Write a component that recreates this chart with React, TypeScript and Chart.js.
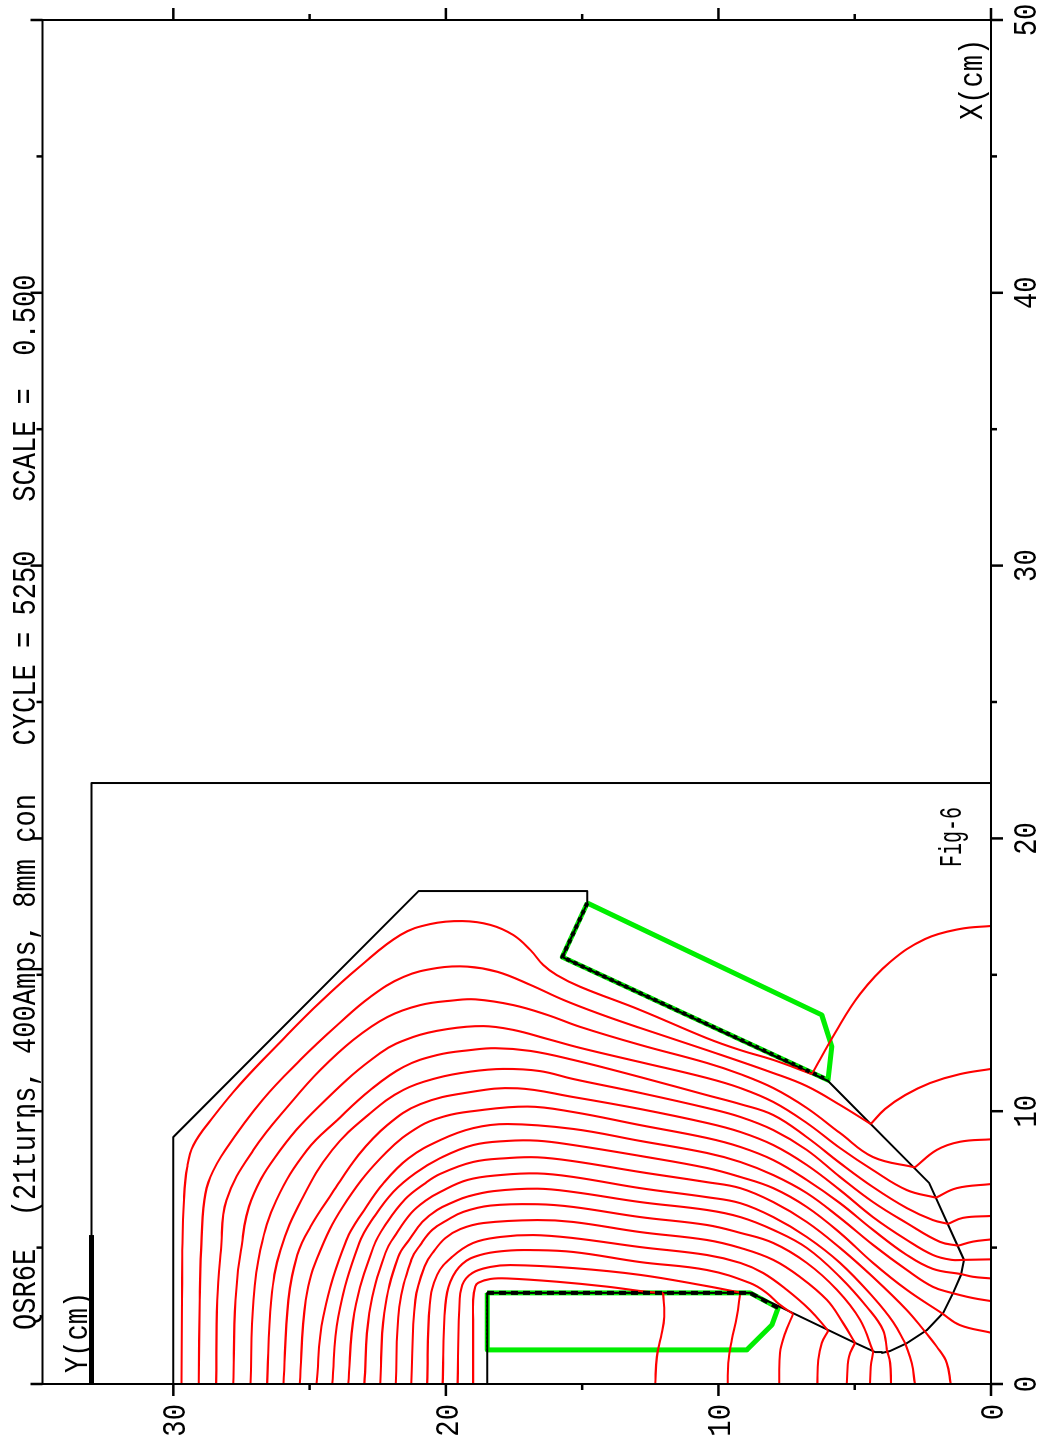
import React, { useEffect, useRef } from "react";
import { Chart, registerables } from "chart.js";

Chart.register(...registerables);

type P = [number, number]; // [X cm, Y cm]

const titleText = "QSR6E  (21turns, 400Amps, 8mm con   CYCLE = 5250   SCALE =  0.500";
const xLabelText = "X(cm)";
const yLabelText = "Y(cm)";
const figText = "Fig-6";

const outerBox: P[] = [[0, 33], [22.03, 33], [22.03, 0]];
const thickBar: P[] = [[0, 33], [5.46, 33]];
const yoke: P[] = [[0, 30], [9.05, 30], [18.07, 21], [18.07, 14.81], [17.63, 14.81], [15.65, 15.73], [11.11, 5.98], [7.37, 2.27], [4.55, 0.99], [4.0, 1.1], [3.34, 1.39], [2.6, 1.76], [1.98, 2.35], [1.5, 3.08], [1.21, 3.7], [1.14, 4.0], [1.17, 4.25], [1.54, 5.06], [2.86, 7.81], [3.34, 8.84], [3.34, 18.48], [0, 18.48]];
const coilUpper: P[] = [[17.63, 14.81], [15.65, 15.73], [11.14, 5.98], [12.36, 5.84], [13.53, 6.21], [17.63, 14.81]];
const coilLower: P[] = [[3.34, 18.48], [1.25, 18.48], [1.25, 8.96], [2.16, 8.04], [2.79, 7.81], [3.34, 8.84], [3.34, 18.48]];
const coilUpperEdge: P[] = [[17.63, 14.81], [15.65, 15.73], [11.14, 5.98]];
const coilLowerEdge: P[] = [[2.79, 7.81], [3.34, 8.84], [3.34, 18.48]];
const coilLowerSide: P[] = [[3.34, 18.48], [1.25, 18.48]];

const line01a: P[] = [[0, 29.7], [3.08, 29.68], [4.91, 29.67], [6.74, 29.61], [7.95, 29.49], [8.76, 29.26], [9.71, 28.6], [11.0, 27.54], [12.54, 26.07], [14.0, 24.61], [15.32, 23.14], [16.46, 21.67], [16.86, 20.57], [16.97, 19.4], [16.83, 18.37], [16.46, 17.53], [15.91, 16.9], [15.36, 16.43], [14.99, 15.93], [14.56, 15.07], [13.71, 12.87], [12.68, 10.43], [12.24, 9.2], [11.88, 7.99], [11.36, 6.57]];
const line01b: P[] = [[11.36, 6.57], [12.87, 5.72], [14.3, 4.8], [15.47, 3.7], [16.31, 2.42], [16.68, 1.14], [16.79, 0]];
const line02a: P[] = [[0, 29.07], [3.08, 29.03], [4.91, 28.98], [6.74, 28.86], [7.59, 28.64], [8.58, 28.09], [10.41, 26.73], [11.88, 25.34], [13.16, 23.98], [14.19, 22.77], [14.92, 21.56], [15.25, 20.32], [15.3, 19.21], [15.11, 18.11], [14.63, 16.9], [14.08, 15.69], [13.56, 14.34], [13.05, 12.87], [12.24, 10.43], [11.4, 7.99], [10.92, 6.76], [10.23, 5.54], [9.53, 4.41]];
const line02b: P[] = [[9.53, 4.41], [10.08, 3.89], [10.59, 3.15], [11.03, 2.24], [11.36, 1.14], [11.55, 0]];
const line03a: P[] = [[0, 28.43], [3.08, 28.39], [4.91, 28.25], [6.74, 28.05], [8.58, 27.06], [10.41, 25.6], [11.51, 24.61], [12.61, 23.4], [13.45, 22.15], [13.89, 20.94], [14.06, 19.73], [14.1, 18.92], [13.89, 17.53], [13.53, 16.28], [13.09, 15.07], [12.43, 12.87], [11.77, 10.43], [11.36, 9.2], [10.85, 7.99], [10.12, 6.76], [9.2, 5.54], [8.32, 4.33], [7.94, 2.79]];
const line03b: P[] = [[7.94, 2.79], [8.58, 1.99], [8.88, 1.14], [8.97, 0]];
const line04a: P[] = [[0, 27.8], [3.08, 27.72], [4.91, 27.52], [6.74, 27.14], [8.58, 26.07], [10.41, 24.42], [12.13, 22.41], [12.72, 21.2], [13.01, 19.95], [13.12, 18.63], [12.98, 17.53], [12.65, 16.28], [12.32, 15.07], [11.8, 12.87], [11.22, 10.43], [10.85, 9.2], [10.34, 7.99], [9.57, 6.76], [8.65, 5.54], [7.84, 4.33], [7.11, 3.09], [6.83, 2.02]];
const line04b: P[] = [[6.83, 2.02], [7.18, 1.26], [7.33, 0]];
const line05a: P[] = [[0, 27.17], [3.08, 27.06], [4.91, 26.81], [6.74, 26.22], [8.58, 25.09], [9.68, 23.98], [10.78, 22.77], [11.62, 21.56], [12.06, 20.32], [12.24, 19.11], [12.31, 18.19], [12.21, 16.9], [11.88, 15.33], [11.25, 12.87], [10.59, 10.43], [10.26, 9.2], [9.86, 7.99], [9.05, 6.76], [8.1, 5.54], [7.22, 4.33], [6.45, 3.09], [6.01, 2.13], [5.87, 1.57]];
const line05b: P[] = [[5.87, 1.57], [6.09, 1.03], [6.16, 0]];
const line06a: P[] = [[0, 26.56], [3.08, 26.41], [4.91, 26.07], [6.74, 25.3], [8.58, 24.17], [9.93, 22.77], [10.78, 21.56], [11.22, 20.32], [11.45, 19.11], [11.55, 17.9], [11.47, 16.54], [11.18, 15.33], [10.67, 12.87], [10.12, 10.43], [9.79, 9.2], [9.31, 7.99], [8.58, 6.76], [7.59, 5.54], [6.67, 4.33], [5.9, 3.09], [5.21, 1.87], [5.07, 1.2]];
const line06b: P[] = [[5.07, 1.2], [5.22, 0.66], [5.3, 0]];
const line07a: P[] = [[0, 25.96], [3.08, 25.78], [4.73, 25.45], [5.76, 24.97], [7.0, 24.17], [8.39, 23.21], [9.49, 22.15], [10.26, 20.94], [10.7, 19.11], [10.84, 17.38], [10.52, 15.33], [10.08, 12.87], [9.57, 10.43], [9.24, 9.2], [8.76, 7.99], [8.03, 6.76], [7.11, 5.54], [6.12, 4.33], [5.28, 3.09], [4.73, 2.13], [4.55, 1.44], [4.55, 0.99]];
const line07b: P[] = [[4.55, 0.99], [4.57, 0]];
const line08a: P[] = [[0, 25.36], [3.08, 25.14], [4.91, 24.6], [6.74, 23.62], [8.5, 22.18], [9.46, 20.94], [9.82, 20.02], [9.99, 19.11], [10.17, 17.01], [9.97, 15.33], [9.49, 12.87], [9.02, 10.43], [8.69, 9.2], [8.21, 7.99], [7.48, 6.76], [6.63, 5.54], [5.65, 4.33], [4.73, 3.09], [4.22, 2.13], [4.03, 1.1]];
const line08b: P[] = [[4.03, 1.1], [3.93, 0.66], [3.87, 0]];
const line09a: P[] = [[0, 24.75], [2.46, 24.5], [5.28, 23.65], [6.38, 22.99], [7.35, 22.3], [8.27, 21.38], [8.94, 20.21], [9.38, 19.0], [9.53, 17.75], [9.35, 15.33], [8.91, 12.87], [8.47, 10.43], [8.14, 9.2], [7.66, 7.99], [7.0, 6.76], [6.09, 5.54], [5.1, 4.33], [4.18, 3.09], [3.56, 2.13], [3.32, 1.38]];
const line09b: P[] = [[3.32, 1.38], [3.15, 0.66], [3.04, 0]];
const line10a: P[] = [[0, 24.17], [2.46, 23.95], [5.17, 23.18], [6.19, 22.59], [7.04, 21.93], [7.73, 21.12], [8.28, 20.21], [8.76, 19.0], [8.91, 17.75], [8.92, 16.65], [8.76, 15.33], [8.36, 12.87], [7.92, 10.43], [7.59, 9.2], [7.18, 7.99], [6.49, 6.76], [5.54, 5.54], [4.44, 4.33], [3.45, 3.09], [2.6, 1.81]];
const line10b: P[] = [[2.6, 1.81], [2.16, 1.14], [1.88, 0]];
const line11a: P[] = [[0, 23.58], [2.6, 23.36], [5.02, 22.66], [5.94, 22.15], [6.78, 21.49], [7.33, 20.8], [7.7, 20.21], [8.14, 19.0], [8.28, 17.75], [8.31, 16.65], [8.17, 15.33], [7.77, 12.87], [7.4, 10.43], [7.18, 9.2], [6.67, 7.99], [5.94, 6.76], [4.99, 5.54], [3.92, 4.33], [2.71, 3.09], [1.92, 2.42]];
const line11b: P[] = [[1.92, 2.42], [1.37, 1.99], [0.77, 1.62], [0, 1.48]];
const line12a: P[] = [[0, 22.99], [2.6, 22.81], [4.8, 22.22], [5.57, 21.78], [6.27, 21.27], [6.71, 20.76], [7.04, 20.21], [7.48, 19.21], [7.66, 18.0], [7.72, 16.65], [7.59, 15.33], [7.18, 12.87], [6.85, 10.43], [6.63, 9.2], [6.12, 7.99], [5.39, 6.76], [4.44, 5.54], [3.19, 4.33], [2.27, 3.59], [1.5, 3.15]];
const line12b: P[] = [[1.5, 3.15], [0.77, 2.91], [0, 2.79]];
const line13a: P[] = [[0, 22.41], [2.6, 22.26], [4.66, 21.75], [5.35, 21.3], [5.94, 20.87], [6.38, 20.32], [6.67, 19.73], [6.87, 19.21], [7.07, 18.26], [7.16, 16.65], [7.04, 15.33], [6.67, 12.87], [6.38, 10.43], [6.12, 9.2], [5.65, 7.99], [4.99, 6.76], [3.92, 5.54], [2.82, 4.55], [1.98, 3.96], [1.25, 3.82]];
const line13b: P[] = [[1.25, 3.82], [0.77, 3.7], [0, 3.67]];
const line14a: P[] = [[0, 21.84], [2.82, 21.71], [4.55, 21.27], [5.1, 20.94], [5.65, 20.5], [6.01, 19.95], [6.31, 19.36], [6.54, 18.37], [6.59, 16.65], [6.49, 15.33], [6.12, 12.87], [5.83, 10.43], [5.54, 9.2], [5.17, 7.99], [4.44, 6.76], [3.45, 5.65], [2.35, 4.8], [1.18, 4.32]];
const line14b: P[] = [[1.18, 4.32], [0.63, 4.41], [0, 4.44]];
const line15a: P[] = [[0, 21.27], [3.08, 21.12], [4.36, 20.76], [4.84, 20.46], [5.35, 20.02], [5.68, 19.47], [5.9, 18.63], [6.01, 16.65], [5.94, 15.33], [5.57, 12.87], [5.28, 10.43], [4.99, 9.2], [4.55, 7.99], [3.92, 7.0], [3.08, 6.02], [2.24, 5.43], [1.51, 4.99]];
const line15b: P[] = [[1.51, 4.99], [1.0, 5.21], [0, 5.29]];
const line16a: P[] = [[0, 20.69], [2.9, 20.59], [4.0, 20.32], [4.66, 19.77], [5.17, 19.0], [5.39, 18.0], [5.46, 16.8], [5.35, 15.33], [5.02, 12.87], [4.73, 10.43], [4.44, 9.2], [4.07, 8.36], [3.45, 7.49], [2.71, 6.64], [1.95, 5.97]];
const line16b: P[] = [[1.95, 5.97], [1.5, 6.21], [0.88, 6.34], [0, 6.37]];
const line17a: P[] = [[0, 20.12], [2.9, 20.02], [3.74, 19.84], [4.4, 19.4], [4.73, 18.74], [4.88, 17.82], [4.91, 16.9], [4.84, 15.33], [4.47, 12.87], [4.18, 10.43], [3.7, 8.84], [3.34, 8.23], [2.9, 7.74], [2.57, 7.26]];
const line17b: P[] = [[2.57, 7.26], [1.87, 7.55], [1.14, 7.74], [0, 7.77]];
const line18a: P[] = [[0, 19.57], [2.71, 19.51], [3.63, 19.4], [4.07, 19.03], [4.29, 18.37], [4.36, 17.64], [4.25, 15.33], [4.0, 12.87], [3.59, 10.43], [3.35, 9.2]];
const line18b: P[] = [[3.35, 9.2], [2.46, 9.33], [1.61, 9.51], [0.77, 9.64], [0, 9.66]];
const line19a: P[] = [[0, 19.0], [2.35, 19.0], [3.08, 19.0], [3.57, 18.92], [3.71, 18.81], [3.85, 18.37], [3.87, 17.76], [3.75, 15.93], [3.57, 14.09], [3.38, 12.63], [3.34, 12.03]];
const line19b: P[] = [[3.34, 12.03], [2.46, 11.99], [1.72, 12.11], [0.99, 12.26], [0, 12.32]];

const fieldLines: P[][] = [
  line01a, line01b, line02a, line02b, line03a, line03b, line04a, line04b, line05a, line05b,
  line06a, line06b, line07a, line07b, line08a, line08b, line09a, line09b, line10a, line10b,
  line11a, line11b, line12a, line12b, line13a, line13b, line14a, line14b, line15a, line15b,
  line16a, line16b, line17a, line17b, line18a, line18b, line19a, line19b,
];

const FONT_TEXT = '"Liberation Mono", monospace';

function ds(points: P[], color: string, width: number, order: number, tension = 0, dash: number[] = []) {
  return {
    data: points.map(([x, y]) => ({ x, y })),
    showLine: true,
    borderColor: color,
    borderWidth: width,
    borderDash: dash,
    borderJoinStyle: "round" as const,
    pointRadius: 0,
    tension,
    fill: false,
    clip: false as const,
    order,
  };
}

const axesPlugin = {
  id: "frameAndText",
  afterDraw(chart: any) {
    const { ctx, chartArea: a, scales } = chart;
    ctx.save();
    ctx.strokeStyle = "#000";
    ctx.lineWidth = 2;
    ctx.strokeRect(a.left, a.top, a.right - a.left, a.bottom - a.top);
    const mark = (x1: number, y1: number, x2: number, y2: number, w: number) => {
      ctx.lineWidth = w;
      ctx.beginPath();
      ctx.moveTo(x1, y1);
      ctx.lineTo(x2, y2);
      ctx.stroke();
    };
    const text = (s: string, x: number, y: number, size: number, sx: number, align: CanvasTextAlign = "left") => {
      ctx.save();
      ctx.translate(x, y);
      ctx.scale(sx, 1);
      ctx.font = `${size}px ${FONT_TEXT}`;
      ctx.fillStyle = "#000";
      ctx.textAlign = align;
      ctx.textBaseline = "alphabetic";
      ctx.fillText(s, 0, 0);
      ctx.restore();
    };
    for (const t of scales.x.ticks) {
      const p = scales.x.getPixelForValue(t.value);
      const len = t.value % 10 === 0 ? 12 : 6;
      mark(p, a.bottom, p, a.bottom + len, 2.5);
      mark(p, a.top, p, a.top - len, 2.5);
      if (t.label) text(String(t.label), p, a.bottom + 45, 34, 0.8, "center");
    }
    for (const t of scales.y.ticks) {
      const p = scales.y.getPixelForValue(t.value);
      const len = t.value % 10 === 0 ? 12 : 6;
      mark(a.left, p, a.left - len, p, 2.5);
      mark(a.right, p, a.right + len, p, 2.5);
      if (t.label) text(String(t.label), a.left - 20, p + 12, 34, 0.8, "right");
    }
    text(titleText, 115, 35, 33, 0.82);
    text(xLabelText, 1325, 982, 33, 0.82);
    text(yLabelText, 72, 87, 33, 0.82);
    text(figText, 578, 961, 31, 0.645);
    ctx.restore();
  },
};

export default function App() {
  const ref = useRef<HTMLCanvasElement>(null);
  useEffect(() => {
    const datasets: any[] = [];
    datasets.push(ds(coilUpperEdge, "#000", 4, 0, 0, [4, 4]));
    datasets.push(ds(coilLowerEdge, "#000", 4, 0, 0, [7, 5]));
    datasets.push(ds(coilLowerSide, "#000", 1.5, 0, 0, [2, 2]));
    datasets.push(ds(thickBar, "#000", 5, 1));
    fieldLines.forEach((l) => datasets.push(ds(l, "#ff0000", 2.1, 2, 0.4)));
    datasets.push(ds(yoke, "#000", 2, 3));
    datasets.push(ds(outerBox, "#000", 2, 3));
    datasets.push(ds(coilUpper, "#00ee00", 5, 4));
    datasets.push(ds(coilLower, "#00ee00", 5, 4));

    const labelEveryTen = (v: any) => (Number(v) % 10 === 0 ? String(v) : "");
    const chart = new Chart(ref.current as HTMLCanvasElement, {
      type: "scatter",
      data: { datasets },
      options: {
        animation: false,
        responsive: false,
        devicePixelRatio: 1,
        layout: { padding: { top: 42.5, right: 20, left: 0, bottom: 0 } },
        plugins: { legend: { display: false }, title: { display: false }, tooltip: { enabled: false } },
        scales: {
          x: {
            type: "linear",
            min: 0,
            max: 50,
            grid: { display: false, drawTicks: false },
            border: { display: false },
            afterFit: (s: any) => { s.height = 54; s.paddingLeft = 0; s.paddingRight = 0; },
            ticks: { display: false, stepSize: 5, autoSkip: false, includeBounds: false, callback: labelEveryTen },
          },
          y: {
            type: "linear",
            min: 0,
            max: 34.8,
            grid: { display: false, drawTicks: false },
            border: { display: false },
            afterFit: (s: any) => { s.width = 61; s.paddingTop = 0; s.paddingBottom = 0; },
            ticks: { display: false, stepSize: 5, autoSkip: false, includeBounds: false, callback: labelEveryTen },
          },
        },
      } as any,
      plugins: [axesPlugin],
    } as any);
    return () => chart.destroy();
  }, []);

  return (
    <div style={{ position: "fixed", left: 0, top: 0, width: 1045, height: 1445, overflow: "hidden", background: "#fff" }}>
      <canvas
        ref={ref}
        width={1445}
        height={1045}
        style={{
          position: "absolute",
          left: 0,
          top: 0,
          transformOrigin: "0 0",
          transform: "translate(0px, 1445px) rotate(-90deg)",
        }}
      />
    </div>
  );
}
